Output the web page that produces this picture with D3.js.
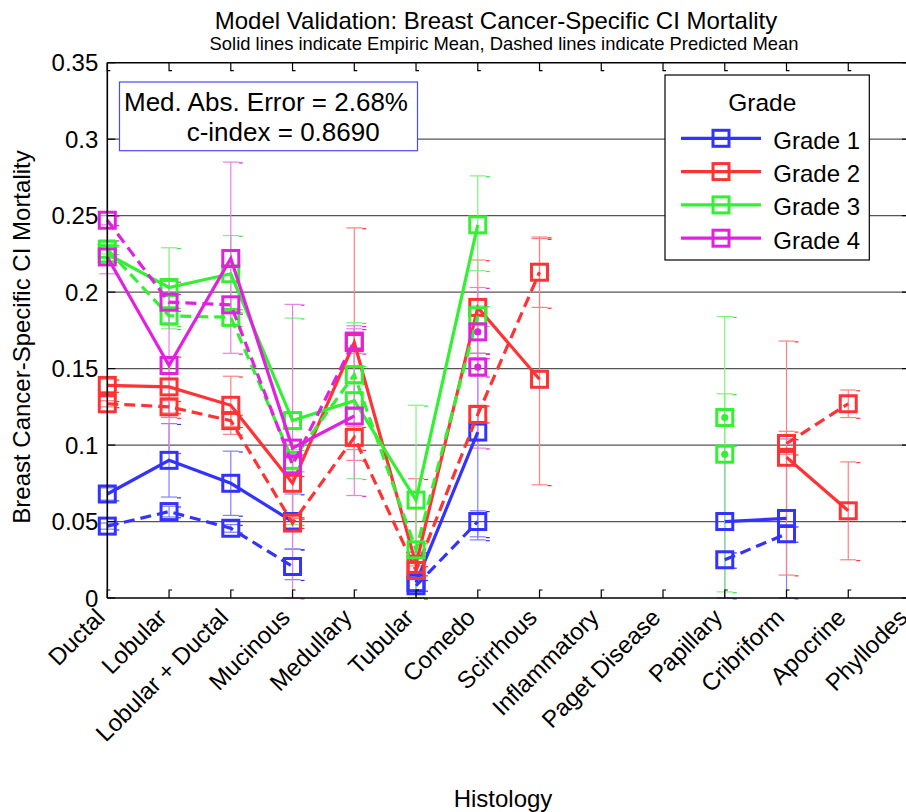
<!DOCTYPE html>
<html>
<head>
<meta charset="utf-8">
<script src="https://cdn.jsdelivr.net/npm/d3@7"></script>
<style>
  html, body { margin: 0; padding: 0; background: #fff; }
  svg { display: block; font-family: "Liberation Sans", Arial, Helvetica, sans-serif; }
</style>
</head>
<body>
<svg id="chart" width="906" height="812"></svg>
<script>
// ---- data -------------------------------------------------------------
const categories = ["Ductal", "Lobular", "Lobular + Ductal", "Mucinous", "Medullary", "Tubular",
  "Comedo", "Scirrhous", "Inflammatory", "Paget Disease", "Papillary", "Cribriform", "Apocrine", "Phyllodes"];
const yTickValues = [0, 0.05, 0.1, 0.15, 0.2, 0.25, 0.3, 0.35];
const yTickLabels = ["0", "0.05", "0.1", "0.15", "0.2", "0.25", "0.3", "0.35"];
const gradeNames = ["Grade 1", "Grade 2", "Grade 3", "Grade 4"];

// empiric means (solid lines), null = no patients in that cell
const empiric1 = [0.068, 0.090, 0.075, 0.050, null, 0.010, 0.1085, null, null, null, 0.050, 0.052, null, null];
const empiric2 = [0.139, 0.138, 0.126, 0.075, 0.167, 0.022, 0.190, 0.143, null, null, null, 0.092, 0.057, null];
const empiric3 = [0.225, 0.203, 0.212, 0.116, 0.129, 0.064, 0.244, null, null, null, 0.094, null, null, null];
const empiric4 = [0.223, 0.152, 0.222, 0.098, 0.119, null, 0.174, null, null, null, null, null, null, null];

// predicted means (dashed lines)
const predicted1 = [0.047, 0.0565, 0.0456, 0.0206, null, 0.008, 0.050, null, null, null, 0.025, 0.042, null, null];
const predicted2 = [0.127, 0.125, 0.116, 0.049, 0.105, 0.018, 0.120, 0.213, null, null, null, 0.101, 0.127, null];
const predicted3 = [0.228, 0.1845, 0.1835, 0.090, 0.146, 0.0315, 0.1845, null, null, null, 0.118, null, null, null];
const predicted4 = [0.247, 0.1934, 0.1917, 0.087, 0.168, null, 0.151, null, null, null, null, null, null, null];

// confidence bounds of the empiric means
const empiric1Lo = [0.064, 0.066, 0.054, 0.032, null, 0.000, 0.038, null, null, null, 0.000, 0.000, null, null];
const empiric1Hi = [0.072, 0.114, 0.096, 0.068, null, 0.030, 0.160, null, null, null, 0.100, 0.104, null, null];
const empiric2Lo = [0.135, 0.118, 0.107, 0.052, 0.090, 0.000, 0.160, 0.074, null, null, null, 0.015, 0.025, null];
const empiric2Hi = [0.143, 0.158, 0.145, 0.100, 0.242, 0.078, 0.221, 0.235, null, null, null, 0.168, 0.089, null];
const empiric3Lo = [0.220, 0.176, 0.187, 0.048, 0.078, 0.000, 0.214, null, null, null, 0.004, null, null, null];
const empiric3Hi = [0.230, 0.229, 0.237, 0.183, 0.180, 0.126, 0.276, null, null, null, 0.184, null, null, null];
const empiric4Lo = [0.212, 0.095, 0.160, 0.000, 0.067, null, 0.098, null, null, null, null, null, null, null];
const empiric4Hi = [0.234, 0.207, 0.285, 0.192, 0.178, null, 0.203, null, null, null, null, null, null, null];

// confidence bounds of the predicted means
const predicted1Lo = [0.045, 0.053, 0.043, 0.012, null, 0.005, 0.040, null, null, null, 0.020, 0.037, null, null];
const predicted1Hi = [0.049, 0.060, 0.048, 0.032, null, 0.012, 0.057, null, null, null, 0.030, 0.047, null, null];
const predicted2Lo = [0.125, 0.121, 0.112, 0.046, 0.097, 0.015, 0.115, 0.190, null, null, null, 0.094, 0.118, null];
const predicted2Hi = [0.129, 0.129, 0.120, 0.053, 0.112, 0.021, 0.126, 0.236, null, null, null, 0.109, 0.136, null];
const predicted3Lo = [0.225, 0.178, 0.178, 0.083, 0.140, 0.027, 0.178, null, null, null, 0.100, null, null, null];
const predicted3Hi = [0.231, 0.190, 0.189, 0.097, 0.152, 0.036, 0.191, null, null, null, 0.1335, null, null, null];
const predicted4Lo = [0.244, 0.188, 0.186, 0.080, 0.160, null, 0.145, null, null, null, null, null, null, null];
const predicted4Hi = [0.250, 0.199, 0.197, 0.094, 0.176, null, 0.157, null, null, null, null, null, null, null];

const medAbsError = "2.68%";
const cIndex = "0.8690";

// ---- styling ------------------------------------------------------------
const lineColors = ["#3333ff", "#ff3333", "#33f033", "#e022e0"];
const barColors  = ["#8080ff", "#ff8080", "#80f080", "#e880e8"];

const series = [
  { grade: 0, kind: "empiric",   values: empiric1,   lo: empiric1Lo,   hi: empiric1Hi },
  { grade: 0, kind: "predicted", values: predicted1, lo: predicted1Lo, hi: predicted1Hi },
  { grade: 1, kind: "empiric",   values: empiric2,   lo: empiric2Lo,   hi: empiric2Hi },
  { grade: 1, kind: "predicted", values: predicted2, lo: predicted2Lo, hi: predicted2Hi },
  { grade: 2, kind: "empiric",   values: empiric3,   lo: empiric3Lo,   hi: empiric3Hi },
  { grade: 2, kind: "predicted", values: predicted3, lo: predicted3Lo, hi: predicted3Hi },
  { grade: 3, kind: "empiric",   values: empiric4,   lo: empiric4Lo,   hi: empiric4Hi },
  { grade: 3, kind: "predicted", values: predicted4, lo: predicted4Lo, hi: predicted4Hi }
];

// ---- layout -------------------------------------------------------------
const plot = { left: 107.3, right: 910, top: 62.7, bottom: 598 };
const svg = d3.select("#chart");

const x = d3.scaleLinear().domain([0, categories.length - 1]).range([plot.left, plot.right]);
const y = d3.scaleLinear().domain([0, 0.35]).range([plot.bottom, plot.top]);

// horizontal grid
svg.append("g").selectAll("line")
  .data(yTickValues.filter(v => v > 0 && v < 0.35))
  .join("line")
  .attr("x1", plot.left).attr("x2", plot.right)
  .attr("y1", d => y(d)).attr("y2", d => y(d))
  .attr("stroke", "#555").attr("stroke-width", 1.3);

// error bars
const ebLayer = svg.append("g");
series.forEach(s => {
  s.values.forEach((v, i) => {
    if (v == null || s.lo[i] == null || s.hi[i] == null) return;
    const cx = x(i), y0 = y(s.lo[i]), y1 = y(s.hi[i]);
    const col = barColors[s.grade];
    ebLayer.append("line").attr("x1", cx).attr("x2", cx).attr("y1", y0).attr("y2", y1)
      .attr("stroke", col).attr("stroke-width", 1.2);
    [y0, y1].forEach(yy => {
      ebLayer.append("line").attr("x1", cx - 8).attr("x2", cx + 8).attr("y1", yy).attr("y2", yy)
        .attr("stroke", col).attr("stroke-width", 1.2);
      ebLayer.append("line").attr("x1", cx + 8).attr("x2", cx + 12).attr("y1", yy + 0.8).attr("y2", yy + 0.8)
        .attr("stroke", lineColors[s.grade]).attr("stroke-width", 1.2);
    });
  });
});

// mean lines, markers
const line = d3.line()
  .defined(d => d.v != null)
  .x(d => x(d.i)).y(d => y(d.v));

series.forEach(s => {
  const pts = s.values.map((v, i) => ({ v, i }));
  const g = svg.append("g");
  g.append("path").datum(pts)
    .attr("d", line)
    .attr("fill", "none")
    .attr("stroke", lineColors[s.grade])
    .attr("stroke-width", 3.2)
    .attr("stroke-dasharray", s.kind === "predicted" ? "11,6" : null);
  const valid = pts.filter(d => d.v != null);
  g.selectAll("rect").data(valid).join("rect")
    .attr("x", d => x(d.i) - 8).attr("y", d => y(d.v) - 8)
    .attr("width", 16).attr("height", 16)
    .attr("fill", "none")
    .attr("stroke", lineColors[s.grade]).attr("stroke-width", 3);
  // isolated points get a dot where the line would start
  const isolated = valid.filter(d => {
    const prev = d.i > 0 ? s.values[d.i - 1] : null;
    const next = d.i < s.values.length - 1 ? s.values[d.i + 1] : null;
    return prev == null && next == null;
  });
  g.selectAll("circle").data(isolated).join("circle")
    .attr("cx", d => x(d.i)).attr("cy", d => y(d.v)).attr("r", 3.6)
    .attr("fill", lineColors[s.grade]);
});

// axes box
const axisG = svg.append("g").attr("stroke", "#000").attr("fill", "none");
axisG.append("line").attr("x1", plot.left).attr("x2", plot.left).attr("y1", plot.top).attr("y2", plot.bottom).attr("stroke-width", 1.6);
axisG.append("line").attr("x1", plot.right).attr("x2", plot.right).attr("y1", plot.top).attr("y2", plot.bottom).attr("stroke-width", 1.6);
axisG.append("line").attr("x1", plot.left).attr("x2", plot.right).attr("y1", plot.bottom).attr("y2", plot.bottom).attr("stroke-width", 1.6);
axisG.append("line").attr("x1", plot.left).attr("x2", plot.right).attr("y1", plot.top).attr("y2", plot.top).attr("stroke-width", 1.6);

// ticks (inward)
categories.forEach((c, i) => {
  const cx = x(i);
  axisG.append("path").attr("d", `M${cx},${plot.bottom}V${plot.bottom - 8}H${cx + 3}`).attr("stroke-width", 1.2);
  axisG.append("path").attr("d", `M${cx},${plot.top}V${plot.top + 8}H${cx + 3}`).attr("stroke-width", 1.2);
});
yTickValues.forEach(v => {
  const yy = y(v);
  axisG.append("line").attr("x1", plot.left).attr("x2", plot.left + 8).attr("y1", yy).attr("y2", yy).attr("stroke-width", 1.2);
  axisG.append("line").attr("x1", plot.right - 8).attr("x2", plot.right).attr("y1", yy).attr("y2", yy).attr("stroke-width", 1.2);
});

// y tick labels
svg.append("g").selectAll("text").data(yTickValues).join("text")
  .attr("x", plot.left - 9).attr("y", d => y(d))
  .attr("text-anchor", "end").attr("dominant-baseline", "central")
  .attr("font-size", 24).attr("fill", "#000")
  .text((d, i) => yTickLabels[i]);

// x tick labels, rotated
svg.append("g").selectAll("text").data(categories).join("text")
  .attr("transform", (d, i) => `translate(${x(i) - 7},${plot.bottom + 15}) rotate(-45)`)
  .attr("text-anchor", "end").attr("dominant-baseline", "central")
  .attr("font-size", 24).attr("fill", "#000")
  .text(d => d);

// axis titles
svg.append("text").attr("x", 503).attr("y", 807).attr("text-anchor", "middle")
  .attr("font-size", 24).text("Histology");
svg.append("text").attr("transform", "translate(30,337) rotate(-90)").attr("text-anchor", "middle")
  .attr("font-size", 24).text("Breast Cancer-Specific CI Mortality");

// titles
svg.append("text").attr("x", 496).attr("y", 29.3).attr("text-anchor", "middle")
  .attr("font-size", 24).text("Model Validation: Breast Cancer-Specific CI Mortality");
svg.append("text").attr("x", 504).attr("y", 50).attr("text-anchor", "middle")
  .attr("font-size", 18.4).text("Solid lines indicate Empiric Mean, Dashed lines indicate Predicted Mean");

// statistics box
const stat = svg.append("g");
stat.append("rect").attr("x", 119.5).attr("y", 82).attr("width", 298).attr("height", 68.7)
  .attr("fill", "#fff").attr("stroke", "#4a4aff").attr("stroke-width", 1.2);
stat.append("text").attr("x", 124).attr("y", 111).attr("font-size", 26)
  .text("Med. Abs. Error = " + medAbsError);
stat.append("text").attr("x", 186.7).attr("y", 140.7).attr("font-size", 26)
  .text("c-index = " + cIndex);

// legend
const leg = svg.append("g");
leg.append("rect").attr("x", 665).attr("y", 75).attr("width", 204.3).attr("height", 185)
  .attr("fill", "#fff").attr("stroke", "#000").attr("stroke-width", 1.2);
leg.append("text").attr("x", 762.3).attr("y", 110.5).attr("text-anchor", "middle")
  .attr("font-size", 24.5).text("Grade");
gradeNames.forEach((name, k) => {
  const ly = 138.3 + k * 33.3;
  leg.append("line").attr("x1", 681).attr("x2", 761).attr("y1", ly).attr("y2", ly)
    .attr("stroke", lineColors[k]).attr("stroke-width", 3.2);
  leg.append("rect").attr("x", 721 - 8).attr("y", ly - 8).attr("width", 16).attr("height", 16)
    .attr("fill", "none").attr("stroke", lineColors[k]).attr("stroke-width", 3);
  leg.append("text").attr("x", 773.3).attr("y", ly + 10.5).attr("font-size", 24).text(name);
});
</script>
</body>
</html>
